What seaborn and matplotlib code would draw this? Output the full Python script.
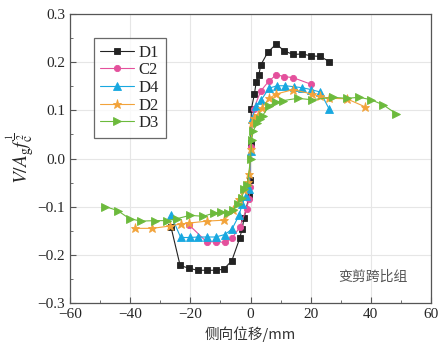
import numpy as np
import pandas as pd
import seaborn as sns
import matplotlib.pyplot as plt
from matplotlib.ticker import MultipleLocator

# dados (deslocamento mm, V/Ag fc^0.5)
d1_x = [-26.4, -23.4, -20.4, -17.6, -14.6, -11.6, -8.9, -6.2, -3.6, -2.8, -2.1, -0.5, -0.3, 0.0,
        0.0, 0.3, 1.3, 1.9, 2.8, 3.4, 5.8, 8.6, 11.0, 14.1, 17.2, 20.2, 23.2, 26.2]
d1_y = [-0.143, -0.222, -0.228, -0.232, -0.232, -0.232, -0.230, -0.212, -0.166, -0.146, -0.123, -0.078, -0.044, 0.0,
        0.066, 0.103, 0.134, 0.159, 0.174, 0.194, 0.221, 0.238, 0.224, 0.216, 0.217, 0.213, 0.212, 0.201]

c2_x = [-20.4, -14.6, -11.6, -8.6, -6.2, -3.6, -1.3, -0.5, -0.3, 0.0,
        0.0, 1.0, 3.4, 6.0, 8.6, 11.2, 14.1, 20.2]
c2_y = [-0.138, -0.173, -0.173, -0.174, -0.166, -0.143, -0.104, -0.085, -0.060, 0.0,
        0.046, 0.102, 0.140, 0.160, 0.174, 0.170, 0.168, 0.154]

d4_x = [-26.4, -23.2, -20.2, -17.3, -14.3, -11.6, -8.6, -6.2, -3.8, -2.8, -1.6, -0.4, 0.0,
        0.0, 0.4, 1.7, 3.6, 6.2, 8.8, 11.5, 14.5, 17.2, 20.2, 23.2, 26.2]
d4_y = [-0.118, -0.164, -0.164, -0.163, -0.163, -0.163, -0.158, -0.147, -0.118, -0.095, -0.078, -0.064, 0.0,
        0.033, 0.081, 0.108, 0.122, 0.146, 0.151, 0.151, 0.149, 0.147, 0.143, 0.138, 0.102]

d2_x = [-38.3, -32.6, -26.6, -23.2, -20.4, -14.5, -8.7, -5.7, -3.8, -2.3, -0.9, -0.4, 0.0,
        0.0, 0.6, 1.3, 2.4, 3.7, 6.2, 8.6, 14.2, 20.3, 23.1, 26.2, 32.0, 38.2]
d2_y = [-0.145, -0.145, -0.140, -0.136, -0.134, -0.130, -0.128, -0.107, -0.085, -0.066, -0.049, -0.033, 0.0,
        0.039, 0.074, 0.084, 0.091, 0.104, 0.125, 0.134, 0.143, 0.134, 0.129, 0.125, 0.124, 0.107]

d3_x = [-48.2, -44.2, -40.2, -36.3, -31.9, -27.7, -24.5, -20.1, -15.7, -12.0, -9.8, -7.6, -5.7, -4.3,
        -2.9, -2.1, -1.0, 0.0, 0.4, 0.9, 2.1, 3.2, 4.0, 6.3, 8.4, 10.7, 15.7, 20.3, 27.5, 32.0,
        36.2, 40.1, 44.2, 48.4]
d3_y = [-0.100, -0.108, -0.125, -0.130, -0.129, -0.129, -0.125, -0.118, -0.120, -0.113, -0.111, -0.113, -0.106, -0.094,
        -0.082, -0.064, -0.054, 0.0, 0.039, 0.057, 0.073, 0.081, 0.089, 0.110, 0.117, 0.120, 0.125, 0.122, 0.127, 0.125,
        0.127, 0.122, 0.111, 0.093]

series = ["D1", "C2", "D4", "D2", "D3"]
xs = [d1_x, c2_x, d4_x, d2_x, d3_x]
ys = [d1_y, c2_y, d4_y, d2_y, d3_y]

df = pd.concat([pd.DataFrame({"x": x, "y": y, "amostra": s})
                for s, x, y in zip(series, xs, ys)], ignore_index=True)

cores = {"D1": "#222222", "C2": "#e4509c", "D4": "#18a8e0", "D2": "#f2a33a", "D3": "#6cba3c"}
marcadores = {"D1": "s", "C2": "o", "D4": "^", "D2": "*", "D3": ">"}
tamanhos = {"D1": 4, "C2": 4.5, "D4": 5.5, "D2": 6.5, "D3": 5.5}

sns.set_style("ticks")
plt.rcParams["font.family"] = ["Liberation Serif", "Noto Sans CJK SC"]
plt.rcParams["mathtext.fontset"] = "stix"
plt.rcParams["xtick.direction"] = "in"
plt.rcParams["ytick.direction"] = "in"

fig = plt.figure(figsize=(4.48, 3.5), dpi=100)
ax = fig.add_axes([70 / 448, 1 - 303 / 350, 361 / 448, 289 / 350])

for s in series:
    sns.lineplot(data=df[df.amostra == s], x="x", y="y", sort=False, ax=ax,
                 color=cores[s], marker=marcadores[s], markersize=tamanhos[s],
                 markeredgecolor=cores[s], markeredgewidth=0.6, linewidth=0.8, label=s)

ax.set_xlim(-60, 60)
ax.set_ylim(-0.3, 0.3)
ax.xaxis.set_major_locator(MultipleLocator(20))
ax.xaxis.set_minor_locator(MultipleLocator(10))
ax.yaxis.set_major_locator(MultipleLocator(0.1))
ax.yaxis.set_minor_locator(MultipleLocator(0.05))
ax.yaxis.set_major_formatter(plt.FuncFormatter(lambda v, p: f"{v:.1f}".replace("-", "\u2212")))
ax.tick_params(which="major", length=4, labelsize=11, color="#555555")
ax.tick_params(which="minor", length=2.5, color="#555555")
ax.grid(True, which="major", color="#e6e6e6", linewidth=0.8)
for sp in ax.spines.values():
    sp.set_color("#555555")
    sp.set_linewidth(0.9)

ax.set_xlabel("侧向位移/mm", fontsize=10.5, family=["Noto Sans CJK SC"], color="#333333")
ax.set_ylabel(r"$V/A_\mathrm{g}f_\mathrm{c}^{\frac{1}{2}}$", fontsize=14, labelpad=1)
ax.text(0.84, 0.09, "变剪跨比组", transform=ax.transAxes, ha="center", va="center",
        fontsize=10, color="#555555", family=["Noto Sans CJK SC"])

leg = ax.legend(loc="upper left", bbox_to_anchor=(0.066, 0.917), borderaxespad=0,
                fontsize=12, frameon=True, fancybox=False, edgecolor="#444444",
                handlelength=2.0, borderpad=0.4, labelspacing=0.1, handletextpad=0.3)
leg.get_frame().set_linewidth(0.9)

plt.savefig("out.png", dpi=100)
